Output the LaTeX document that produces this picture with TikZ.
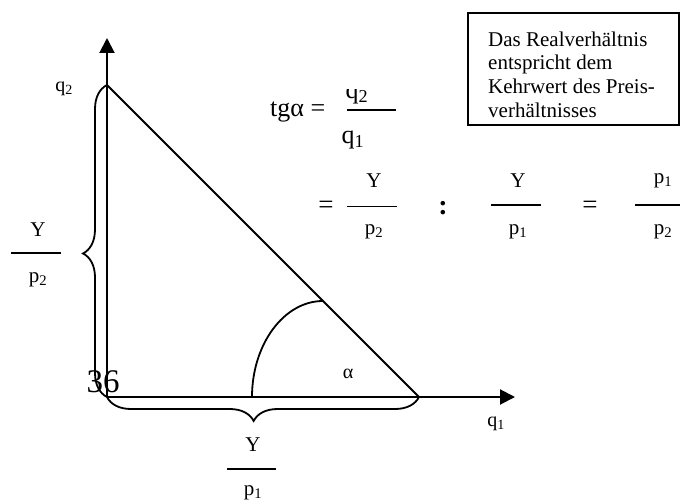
\documentclass[tikz,border=0pt]{standalone}
\usepackage{fontspec}
\setmainfont{Liberation Serif}
\usetikzlibrary{arrows.meta,decorations.pathreplacing}
\begin{document}
\begin{tikzpicture}[x=1pt,y=-1pt,
  axis/.style={line width=2pt,-{Triangle[length=15pt,width=15pt]}},
  thickline/.style={line width=1.8pt},
  bracestyle/.style={line width=1.8pt,decorate,decoration={brace,amplitude=24pt,aspect=#1}},
  lbl/.style={inner sep=0pt,font=\fontsize{20}{23}\selectfont},
  frac/.style={inner sep=0pt,font=\fontsize{21}{24}\selectfont},
  eqs/.style={inner sep=0pt,font=\fontsize{27}{30}\selectfont},
  big/.style={inner sep=0pt,font=\fontsize{26}{30}\selectfont},
  fracline/.style={line width=1.8pt},
  thinfrac/.style={line width=1pt}]
\useasboundingbox (0,0) rectangle (680,500);

% key points
\coordinate (O) at (107,397);
\coordinate (Q2) at (107,85);
\coordinate (Q1) at (419,397);
\coordinate (Ytop) at (107,38);
\coordinate (Xend) at (515,397);
\coordinate (A0) at (252,397);
\coordinate (A1) at (323,301);

% axes, triangle, angle arc
\draw[axis] (O) -- (Ytop);
\draw[axis] (O) -- (Xend);
\draw[thickline] (Q2) -- (Q1);
\draw[thickline] (A0) .. controls (252,344.5) and (283.8,301) .. (A1);

% braces
\draw[bracestyle=0.46] (O) -- (Q2);
\draw[bracestyle=0.53] (Q1) -- (O);

% axis labels
\node[lbl] (q2lab) at (64,89) {q\textsubscript{2}};
\node[lbl] (q1lab) at (496,424) {q\textsubscript{1}};
\node[lbl] (alpha) at (348,374) {α};
\node[inner sep=0pt,font=\fontsize{33}{38}\selectfont] (num) at (103,382) {36};

% left fraction
\node[frac] (lY) at (38,230) {Y};
\node[frac] (lp) at (38,280) {p\textsubscript{2}};
\draw[fracline] (11,253) -- (61,253);

% bottom fraction
\node[frac] (bY) at (253,445) {Y};
\node[frac] (bp) at (253,493) {p\textsubscript{1}};
\draw[fracline] (227,469) -- (276,469);

% tg alpha
\node[big,anchor=base west] (tg) at (270,117) {tgα =};
\begin{scope}
  \clip (340,90) rectangle (400,108);
  \node[big] (tq2) at (357,95) {q\textsubscript{2}};
\end{scope}
\draw[fracline] (347,110) -- (396,110);
\node[big] (tq1) at (353,140) {q\textsubscript{1}};

% second row
\node[eqs] (eq1) at (326,207) {=};
\node[frac] (rY1) at (374,181) {Y};
\draw[thinfrac] (347,206) -- (397,206);
\node[frac] (rp2) at (374,232) {p\textsubscript{2}};
\node[inner sep=0pt,font=\bfseries\fontsize{28}{30}\selectfont] (colon) at (443,208) {:};
\node[frac] (rY2) at (518,181) {Y};
\draw[fracline] (491,205) -- (541,205);
\node[frac] (rp1) at (518,232) {p\textsubscript{1}};
\node[eqs] (eq2) at (590,207) {=};
\node[frac] (rp1b) at (663,181) {p\textsubscript{1}};
\draw[fracline] (635,205) -- (680,205);
\node[frac] (rp2b) at (663,232) {p\textsubscript{2}};

% text box
\draw[line width=1.5pt] (468,13) rectangle (679,125);
\node[anchor=north west,inner sep=0pt,align=left,font=\fontsize{21}{23.7}\selectfont] (boxtext) at (488,31.5)
  {Das Realverhältnis\\entspricht dem\\Kehrwert des Preis-\\verhältnisses};
\end{tikzpicture}
\end{document}
